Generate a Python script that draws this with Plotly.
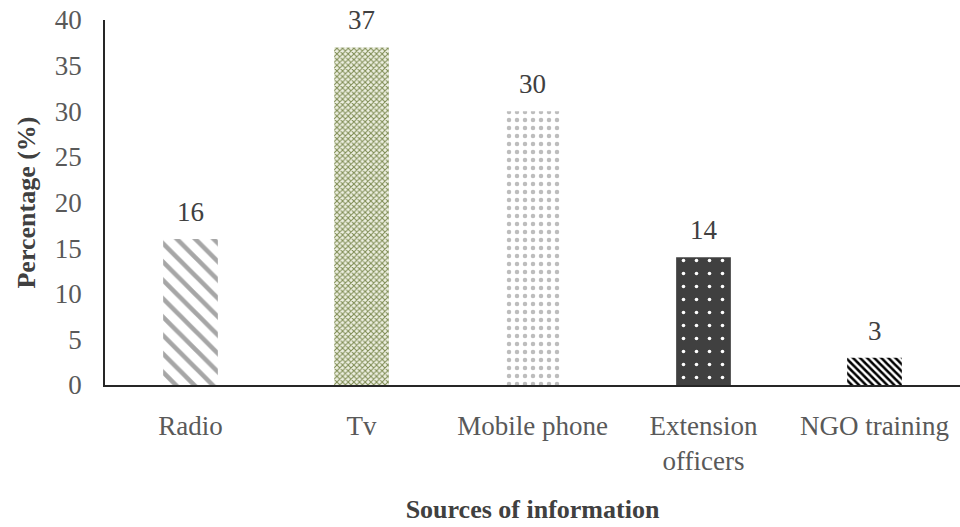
import plotly.graph_objects as go

sources = ["Radio", "Tv", "Mobile phone", "Extension<br>officers", "NGO training"]
percentages = [16, 37, 30, 14, 3]
y_ticks = [0, 5, 10, 15, 20, 25, 30, 35, 40]

# one hatch style per bar, as in the original figure
pattern_shapes = ["\\", "x", ".", ".", "\\"]
pattern_fg = ["#a6a6a6", "#7d8b52", "#bdbdbd", "#ffffff", "#000000"]
pattern_bg = ["#ffffff", "#eef0e2", "#ffffff", "#404040", "#ffffff"]
pattern_size = [13, 4, 8, 13, 5]
pattern_solidity = [0.35, 0.45, 0.25, 0.06, 0.5]

font_family = "Liberation Serif, Times New Roman, serif"
fsize = 27

fig = go.Figure()
for i, name in enumerate(sources):
    fig.add_trace(go.Bar(
        x=[name],
        y=[percentages[i]],
        width=0.32,
        marker=dict(
            color=pattern_bg[i],
            line=dict(width=0),
            pattern=dict(
                shape=pattern_shapes[i],
                fgcolor=pattern_fg[i],
                bgcolor=pattern_bg[i],
                size=pattern_size[i],
                solidity=pattern_solidity[i],
                fillmode="replace",
            ),
        ),
        showlegend=False,
    ))
    # value label above each bar
    fig.add_annotation(
        x=name, y=percentages[i], text=str(percentages[i]),
        showarrow=False, yanchor="bottom", yshift=10,
        font=dict(family=font_family, size=fsize, color="#404040"),
    )

fig.update_layout(
    width=960,
    height=527,
    margin=dict(l=105, r=0, t=20, b=142),
    plot_bgcolor="white",
    paper_bgcolor="white",
    font=dict(family=font_family, color="#595959"),
    barmode="overlay",
)
fig.update_xaxes(
    showline=True,
    linecolor="#262626",
    linewidth=1.5,
    ticks="",
    ticklabelstandoff=16,
    tickfont=dict(size=fsize, color="#595959"),
    title=dict(text="<b>Sources of information</b>", font=dict(size=26, color="#404040"), standoff=25),
    automargin=False,
)
fig.update_yaxes(
    range=[0, 40],
    tickvals=y_ticks,
    showgrid=False,
    zeroline=False,
    showline=True,
    linecolor="#262626",
    linewidth=1.5,
    ticks="",
    ticklabelstandoff=16,
    tickfont=dict(size=fsize, color="#595959"),
    title=dict(text="<b>Percentage (%)</b>", font=dict(size=26, color="#404040"), standoff=12),
    automargin=False,
)

fig.write_html("out.html", config={"displayModeBar": False},
               post_script="document.body.style.margin='0';")
